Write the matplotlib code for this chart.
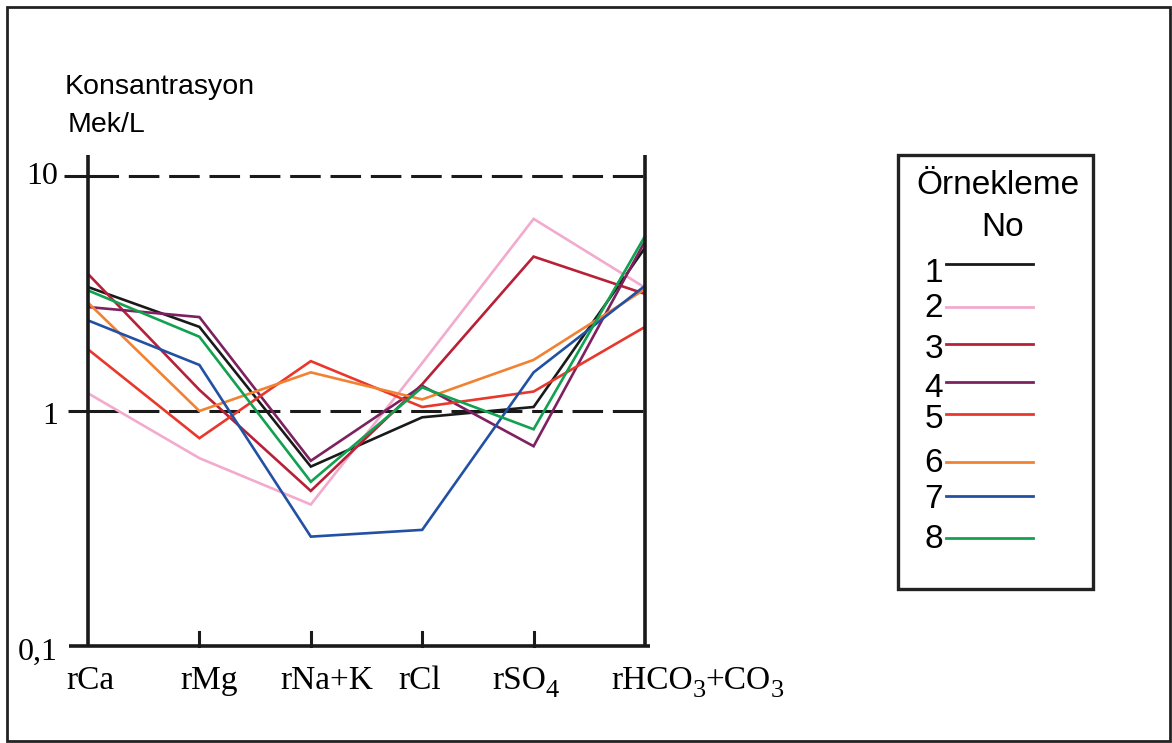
import matplotlib
matplotlib.use("Agg")
import matplotlib.pyplot as plt
from matplotlib.lines import Line2D
from matplotlib.patches import Rectangle
import numpy as np
import re

# ---------------- data ----------------
categories = ["rCa", "rMg", "rNa+K", "rCl", "rSO_4", "rHCO_3+CO_3"]
sample_labels = ["1", "2", "3", "4", "5", "6", "7", "8"]
s1 = [3.37, 2.28, 0.58, 0.94, 1.04, 4.95]
s2 = [1.19, 0.63, 0.40, 1.60, 6.57, 3.35]
s3 = [3.83, 1.23, 0.457, 1.30, 4.54, 3.15]
s4 = [2.77, 2.51, 0.614, 1.28, 0.708, 5.28]
s5 = [1.83, 0.766, 1.63, 1.04, 1.21, 2.28]
s6 = [2.89, 1.00, 1.46, 1.12, 1.65, 3.30]
s7 = [2.43, 1.57, 0.292, 0.312, 1.46, 3.41]
s8 = [3.26, 2.07, 0.50, 1.26, 0.836, 5.55]
series = [s1, s2, s3, s4, s5, s6, s7, s8]
ytick_values = [0.1, 1, 10]
ytick_labels = ["0,1", "1", "10"]

colors = ["#1a1a1a", "#f2aacd", "#b82038", "#7d2160", "#e8382c",
          "#f08232", "#2251a3", "#12a150"]

W, H = 1172, 743
fig = plt.figure(figsize=(W / 100, H / 100), dpi=100)
fig.patch.set_facecolor("white")

def fx(px):
    return px / W

def fy(py):
    return 1 - py / H

# outer frame
fig.add_artist(Rectangle((fx(7), fy(741)), fx(1170) - fx(7), fy(7) - fy(741),
                         transform=fig.transFigure, fill=False,
                         edgecolor="#222222", linewidth=2.0))

# axes: x 88..645 px, y 646 (0.1) .. 155 (top)
x0, x1 = 88, 645
ybot, ytop = 646, 155
decade = 235.0
ax = fig.add_axes([fx(x0), fy(ybot), fx(x1) - fx(x0), fy(ytop) - fy(ybot)])
ax.set_yscale("log")
ax.set_xlim(0, len(categories) - 1)
ymax = 10 ** ((ybot - ytop) / decade - 1)
ax.set_ylim(0.1, ymax)
ax.axis("off")

xs = np.arange(len(categories))
px_per_x = (x1 - x0) / (len(categories) - 1)

# frame lines
for xv in (0, len(categories) - 1):
    ax.plot([xv, xv], [0.1, ymax], color="#1a1a1a", lw=2.6, zorder=5,
            clip_on=False, solid_capstyle="butt")
ax.plot([-19 / px_per_x, len(categories) - 1 + 5 / px_per_x], [0.1, 0.1],
        color="#1a1a1a", lw=2.6, clip_on=False, zorder=5, solid_capstyle="butt")
# bottom ticks
for i in xs[1:-1]:
    ax.plot([i, i], [0.1, 0.1 * 10 ** (14 / decade)], color="#1a1a1a", lw=2.2,
            clip_on=False, zorder=5)

# reference dashed lines at 1 and 10
for v, start in [(1, 68), (10, 64)]:
    ax.plot([(start - x0) / px_per_x, 0], [v, v], color="#1a1a1a", lw=2.2,
            clip_on=False, solid_capstyle="butt")
    ax.plot([0, len(categories) - 1], [v, v], color="#1a1a1a", lw=2.2,
            dashes=(10, 3.2), clip_on=False)

# y tick labels
for v, lab in zip(ytick_values, ytick_labels):
    off = -6 if v == 0.1 else (-5 if v == 1 else 0)
    ax.text((58 - x0) / px_per_x, v * 10 ** (off / decade), lab, ha="right",
            va="center", fontsize=23, family="Liberation Serif", clip_on=False)

# category labels (with large dropped subscripts)
label_left_px = [66, 180, 280, 398, 492, 611]
lab_y = 0.1 * 10 ** (-35 / decade)
for lab, lx in zip(categories, label_left_px):
    parts = re.split(r"(_\d)", lab)
    prev = None
    prev_dy = 0
    for p in parts:
        if not p:
            continue
        is_sub = p.startswith("_")
        txt = p[1:] if is_sub else p
        dy = -7 if is_sub else 0
        size = 19 if is_sub else 24
        if prev is None:
            prev = ax.text((lx - x0) / px_per_x, lab_y, txt, ha="left",
                           va="center", fontsize=size,
                           family="Liberation Serif", clip_on=False)
        else:
            prev = ax.annotate(txt, xy=(1, 0.5), xycoords=prev,
                               xytext=(0, dy - prev_dy), textcoords="offset points",
                               ha="left", va="center", fontsize=size,
                               family="Liberation Serif", annotation_clip=False)
        prev_dy = dy

# data lines
for vals, c in zip(series, colors):
    ax.plot(xs, vals, color=c, lw=1.9, solid_joinstyle="miter", zorder=3)

# y axis title
fig.text(fx(65), fy(87), "Konsantrasyon", fontsize=20.5, family="Liberation Sans",
         ha="left", va="center")
fig.text(fx(68), fy(125), "Mek/L", fontsize=20.5, family="Liberation Sans",
         ha="left", va="center")

# legend box
fig.add_artist(Rectangle((fx(898), fy(589)), fx(1093) - fx(898), fy(155) - fy(589),
                         transform=fig.transFigure, fill=False,
                         edgecolor="#222222", linewidth=2.4))
fig.text(fx(998), fy(186), "Örnekleme", fontsize=24, family="Liberation Sans",
         ha="center", va="center")
fig.text(fx(1003), fy(227), "No", fontsize=24, family="Liberation Sans",
         ha="center", va="center")
legend_y_px = [264, 307, 344, 382, 414, 462, 496, 538]
legend_base_px = [282, 317, 358, 397, 428, 472, 508, 548]
for lab, c, ly, by in zip(sample_labels, colors, legend_y_px, legend_base_px):
    fig.text(fx(943), fy(by), lab, fontsize=24, family="Liberation Sans",
             ha="right", va="baseline")
    fig.add_artist(Line2D([fx(946), fx(1033)], [fy(ly), fy(ly)],
                          transform=fig.transFigure, color=c, lw=2.0))

fig.savefig("out.png", dpi=100, facecolor="white")
